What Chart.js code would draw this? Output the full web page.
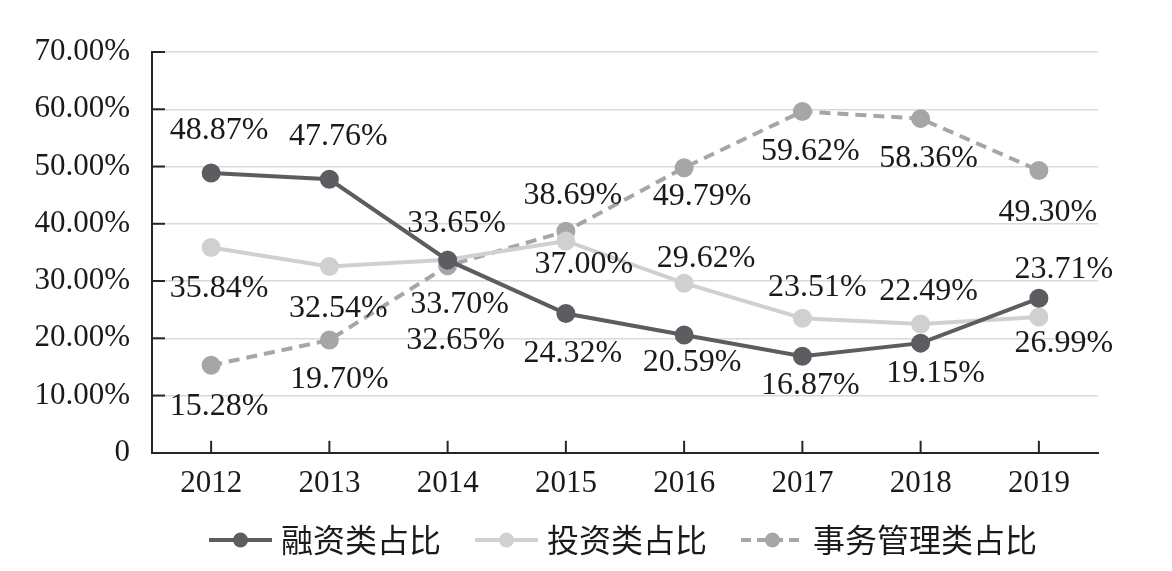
<!DOCTYPE html>
<html>
<head>
<meta charset="utf-8">
<script src="https://cdn.jsdelivr.net/npm/chart.js@4.4.1/dist/chart.umd.min.js"></script>
<style>
html,body{margin:0;padding:0;background:#fff;}
#wrap{width:1172px;height:571px;}
</style>
</head>
<body>
<div id="wrap"><canvas id="c" width="1172" height="571"></canvas></div>
<script>
const categories = ['2012','2013','2014','2015','2016','2017','2018','2019'];
const seriesNames = ['融资类占比','投资类占比','事务管理类占比'];
const financing = [48.87, 47.76, 33.65, 24.32, 20.59, 16.87, 19.15, 26.99];
const investment = [35.84, 32.54, 33.70, 37.00, 29.62, 23.51, 22.49, 23.71];
const affairs = [15.28, 19.70, 32.65, 38.69, 49.79, 59.62, 58.36, 49.30];
const yTickValues = [0, 10, 20, 30, 40, 50, 60, 70];

const COLORS = ['#5c5c61', '#d0d0d0', '#a6a6a9'];
const SERIF = '"Liberation Serif", "Times New Roman", serif';
const CJK = '"Noto Sans CJK SC", sans-serif';

// label offsets (pixels relative to point): [dx, dy]
const labelOffsets = [
  [[8,-42],[9,-43],[9,-37],[7,40],[8,28],[8,29],[15,30],[25,45]],
  [[8,41],[9,42],[12,45],[18,24],[22,-25],[15,-31],[8,-32],[25,-47]],
  [[8,41],[10,40],[8,75],[7,-36],[18,29],[8,40],[8,40],[9,42]]
];

const LEG_W = 80;          // legend box width
const LEG_IMG_W = LEG_W + 14;
function legendImage(color, dashed) {
  const cv = document.createElement('canvas');
  cv.width = LEG_IMG_W; cv.height = 18;
  const g = cv.getContext('2d');
  const x0 = LEG_IMG_W - 63;
  g.strokeStyle = color; g.lineWidth = 4;
  if (dashed) g.setLineDash([10, 6]);
  g.beginPath(); g.moveTo(x0, 9); g.lineTo(LEG_IMG_W, 9); g.stroke();
  g.setLineDash([]);
  g.fillStyle = color;
  g.beginPath(); g.arc(x0 + 31.5, 9, 7.5, 0, Math.PI * 2); g.fill();
  return cv;
}

const labelPlugin = {
  id: 'valueLabels',
  afterDatasetsDraw(chart) {
    const ctx = chart.ctx;
    ctx.save();
    ctx.font = '32px ' + SERIF;
    ctx.fillStyle = '#1a1a1a';
    ctx.textAlign = 'center';
    ctx.textBaseline = 'middle';
    chart.data.datasets.forEach((ds, di) => {
      const meta = chart.getDatasetMeta(di);
      meta.data.forEach((pt, i) => {
        const off = labelOffsets[di][i];
        ctx.fillText(ds.data[i].toFixed(2) + '%', pt.x + off[0], pt.y + off[1]);
      });
    });
    ctx.restore();
  }
};

const tickPlugin = {
  id: 'innerTicks',
  afterLayout(chart) {
    if (chart.legend) { chart.legend.left += 50; chart.legend.width -= 50; }
  },
  beforeDatasetsDraw(chart) {
    const ctx = chart.ctx;
    const xs = chart.scales.x, ys = chart.scales.y;
    ctx.save();
    ctx.strokeStyle = '#262626';
    ctx.lineWidth = 2;
    ys.ticks.forEach((t) => {
      if (t.value === 0) return;
      const y = ys.getPixelForValue(t.value);
      ctx.beginPath(); ctx.moveTo(xs.left, y); ctx.lineTo(xs.left + 13, y); ctx.stroke();
    });
    categories.forEach((c, i) => {
      const x = xs.getPixelForValue(i);
      ctx.beginPath(); ctx.moveTo(x, ys.bottom); ctx.lineTo(x, ys.bottom - 12); ctx.stroke();
    });
    ctx.restore();
  }
};

function mkDataset(label, data, ci, dashed) {
  return {
    label: label,
    data: data,
    borderColor: COLORS[ci],
    backgroundColor: COLORS[ci],
    pointBackgroundColor: COLORS[ci],
    pointBorderColor: COLORS[ci],
    borderWidth: 4,
    borderDash: dashed ? [11, 7] : [],
    pointRadius: 7.5,
    pointHoverRadius: 7.5,
    pointStyle: 'circle',
    tension: 0,
    fill: false
  };
}

const datasets = [
  mkDataset(seriesNames[0], financing, 0, false),
  mkDataset(seriesNames[1], investment, 1, false),
  mkDataset(seriesNames[2], affairs, 2, true)
];
const legendImgs = [legendImage(COLORS[0], false), legendImage(COLORS[1], false), legendImage(COLORS[2], true)];

new Chart(document.getElementById('c'), {
  type: 'line',
  data: { labels: categories, datasets: datasets },
  plugins: [labelPlugin, tickPlugin],
  options: {
    responsive: false,
    animation: false,
    layout: { padding: { left: 0, top: 52, bottom: 5, right: 0 } },
    plugins: {
      tooltip: { enabled: false },
      legend: {
        position: 'bottom',
        labels: {
          usePointStyle: true,
          pointStyleWidth: LEG_W,
          padding: 10,
          color: '#1a1a1a',
          font: { family: CJK, size: 32 },
          generateLabels(chart) {
            return chart.data.datasets.map((d, i) => ({
              text: d.label,
              pointStyle: legendImgs[i],
              fillStyle: d.borderColor,
              strokeStyle: d.borderColor,
              lineWidth: 0,
              fontColor: '#1a1a1a',
              datasetIndex: i,
              hidden: false
            }));
          }
        }
      }
    },
    scales: {
      x: {
        offset: true,
        grid: { display: false, drawTicks: false },
        border: { display: true, color: '#262626', width: 2 },
        ticks: { color: '#1a1a1a', font: { family: SERIF, size: 31 }, padding: 12, maxRotation: 0 }
      },
      y: {
        min: 0, max: 70,
        afterBuildTicks(scale) { scale.ticks = yTickValues.map(v => ({ value: v })); },
        afterFit(scale) { scale.width = 152; },
        grid: { color: '#d9d9d9', lineWidth: 1.5, drawTicks: false },
        border: { display: true, color: '#262626', width: 2 },
        ticks: {
          color: '#1a1a1a',
          font: { family: SERIF, size: 31 },
          padding: 22,
          callback: v => v === 0 ? '0' : v.toFixed(2) + '%'
        }
      },
      yr: {
        position: 'right',
        display: true,
        afterFit(scale) { scale.width = 74; },
        grid: { display: false, drawTicks: false },
        border: { display: false },
        ticks: { display: false }
      }
    }
  }
});
</script>
</body>
</html>
